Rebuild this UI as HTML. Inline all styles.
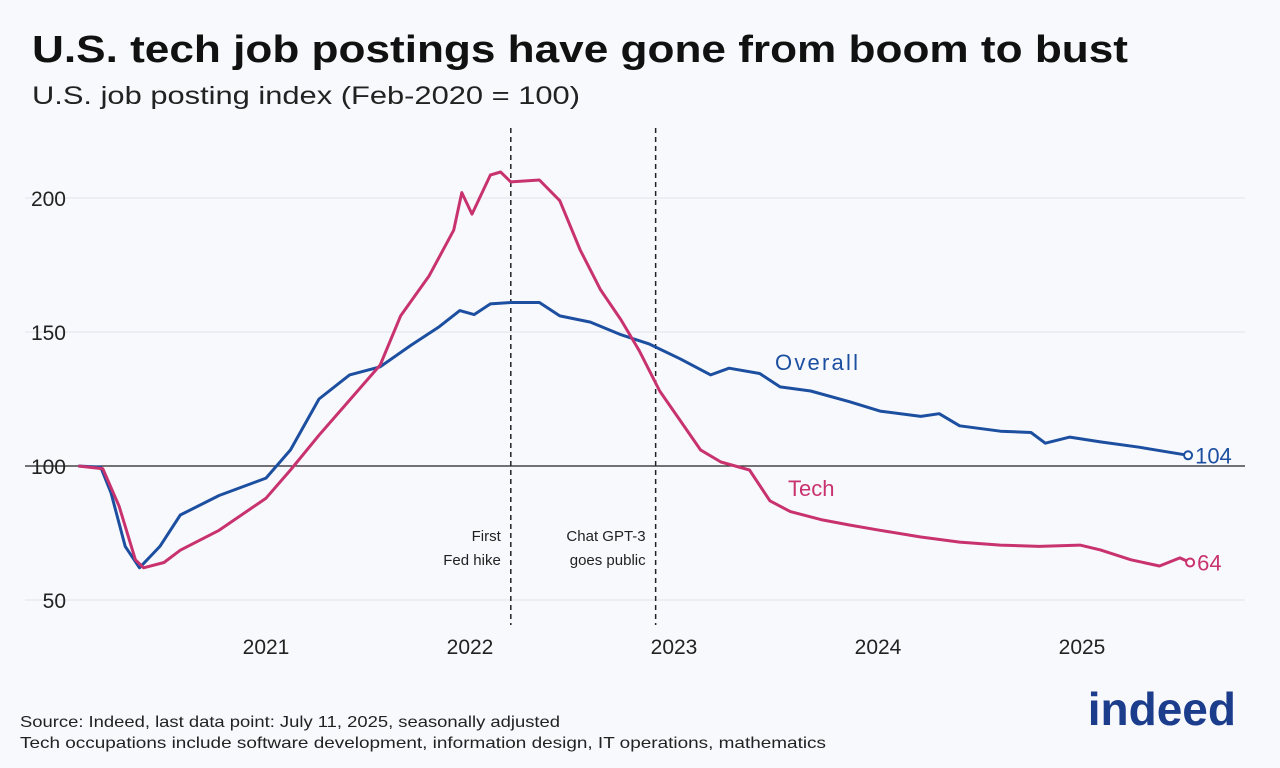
<!DOCTYPE html>
<html><head><meta charset="utf-8"><style>
body{margin:0;width:1280px;height:768px;background:#f8f9fd;font-family:"Liberation Sans","DejaVu Sans",sans-serif;overflow:hidden}
</style></head><body>
<svg width="1280" height="768" style="display:block">
<rect width="1280" height="768" fill="#f8f9fd"/>
<text x="32" y="62" font-size="38" font-weight="bold" fill="#111" textLength="1096" lengthAdjust="spacingAndGlyphs">U.S. tech job postings have gone from boom to bust</text>
<text x="32" y="104" font-size="25" fill="#222" textLength="548" lengthAdjust="spacingAndGlyphs">U.S. job posting index (Feb-2020 = 100)</text>
<g id="grid"></g><g id="marks"></g>
<text x="20" y="727" font-size="16" fill="#222" textLength="540" lengthAdjust="spacingAndGlyphs">Source: Indeed, last data point: July 11, 2025, seasonally adjusted</text>
<text x="20" y="748" font-size="16" fill="#222" textLength="806" lengthAdjust="spacingAndGlyphs">Tech occupations include software development, information design, IT operations, mathematics</text>
<text x="1236" y="725" font-size="46" font-weight="bold" fill="#1c3c8c" text-anchor="end">indeed</text>
</svg>
<script>
const yTicks=[50,100,150,200];
const xTickYears=[2021,2022,2023,2024,2025];
const techDates=[2020.08,2020.2,2020.28,2020.36,2020.40,2020.5,2020.58,2020.77,2021.0,2021.12,2021.26,2021.41,2021.56,2021.66,2021.80,2021.92,2021.96,2022.01,2022.10,2022.15,2022.20,2022.34,2022.44,2022.54,2022.64,2022.74,2022.83,2022.93,2023.03,2023.13,2023.23,2023.37,2023.47,2023.57,2023.72,2023.86,2024.01,2024.21,2024.40,2024.60,2024.79,2024.99,2025.09,2025.24,2025.38,2025.48,2025.53];
const techValues=[100,99,85,65,62,64,68.6,76,88,98.5,111.5,124.6,137.7,156,171,188,202,194,208.6,209.7,206,206.7,199,180.6,165.7,154.5,143,128,117,106,101.5,98.5,87,83,80,78,76,73.5,71.6,70.5,70,70.5,68.7,65,62.7,65.7,64];
const overallDates=[2020.08,2020.19,2020.24,2020.31,2020.38,2020.48,2020.58,2020.77,2021.0,2021.12,2021.26,2021.41,2021.56,2021.71,2021.85,2021.95,2022.02,2022.10,2022.20,2022.34,2022.44,2022.59,2022.74,2022.88,2023.03,2023.18,2023.27,2023.42,2023.52,2023.67,2023.86,2024.01,2024.21,2024.30,2024.40,2024.60,2024.75,2024.82,2024.94,2025.09,2025.28,2025.52];
const overallValues=[100,99.5,90,70,62,70,81.7,89,95.5,106,125,134,137,145,152,158,156.5,160.5,161,161,156,153.7,149,145.5,140,134,136.5,134.5,129.5,128,124,120.5,118.5,119.5,115,113,112.5,108.5,110.8,109,107,104];
const events=[{d:2022.2,l:["First","Fed hike"]},{d:2022.91,l:["Chat GPT-3","goes public"]}];
const X=d=>62+(d-2020)*204, Y=v=>466-(v-100)*2.68;
const NS="http://www.w3.org/2000/svg";
function mk(t,a,p,txt){const e=document.createElementNS(NS,t);for(const k in a)e.setAttribute(k,a[k]);if(txt!=null)e.textContent=txt;p.appendChild(e);return e;}
const g=document.getElementById('grid'),m=document.getElementById('marks');
yTicks.forEach(v=>{
 const l=mk('line',{x1:25,x2:1245,y1:Y(v),y2:Y(v),stroke:v===100?'#222':'#e1e3ea','stroke-width':v===100?1.3:1},g);
 
 
 const t=mk('text',{x:66,y:Y(v)+8,'font-size':21,fill:'#222','text-anchor':'end'},g,String(v));
 
 
});
xTickYears.forEach(yr=>{
 const t=mk('text',{x:X(yr),y:654,'font-size':21,fill:'#222','text-anchor':'middle'},g,String(yr));
 
 
});
events.forEach((ev,i)=>{
 const l=mk('line',{x1:X(ev.d),x2:X(ev.d),y1:128,y2:625,stroke:'#222','stroke-width':1.5,'stroke-dasharray':'5,4'},g);
 
 
 ev.l.forEach((s,j)=>{const t=mk('text',{x:X(ev.d)-10,y:541+j*24,'font-size':15,fill:'#222','text-anchor':'end'},g,s);
 
 });
});
function series(ds,vs,col,name){
 const p=mk('path',{d:ds.map((d,i)=>(i?'L':'M')+X(d).toFixed(1)+','+Y(vs[i]).toFixed(1)).join(''),fill:'none',stroke:col,'stroke-width':3,'stroke-linejoin':'round'},m);
 
 
 const n=ds.length-1;
 const c=mk('circle',{cx:X(ds[n]),cy:Y(vs[n]),r:4,fill:'#fff',stroke:col,'stroke-width':2},m);
 
 
 const t=mk('text',{x:X(ds[n])+7,y:Y(vs[n])+8,'font-size':22,fill:col},m,String(vs[n]));
 
 
}
series(overallDates,overallValues,'#1d4fa0','overall');
series(techDates,techValues,'#c8336f','tech');
const lo=mk('text',{x:775,y:370,'font-size':22,fill:'#1d4fa0','textLength':83},m,'Overall');


const lt=mk('text',{x:788,y:496,'font-size':22,fill:'#c8336f'},m,'Tech');


</script>
</body></html>
